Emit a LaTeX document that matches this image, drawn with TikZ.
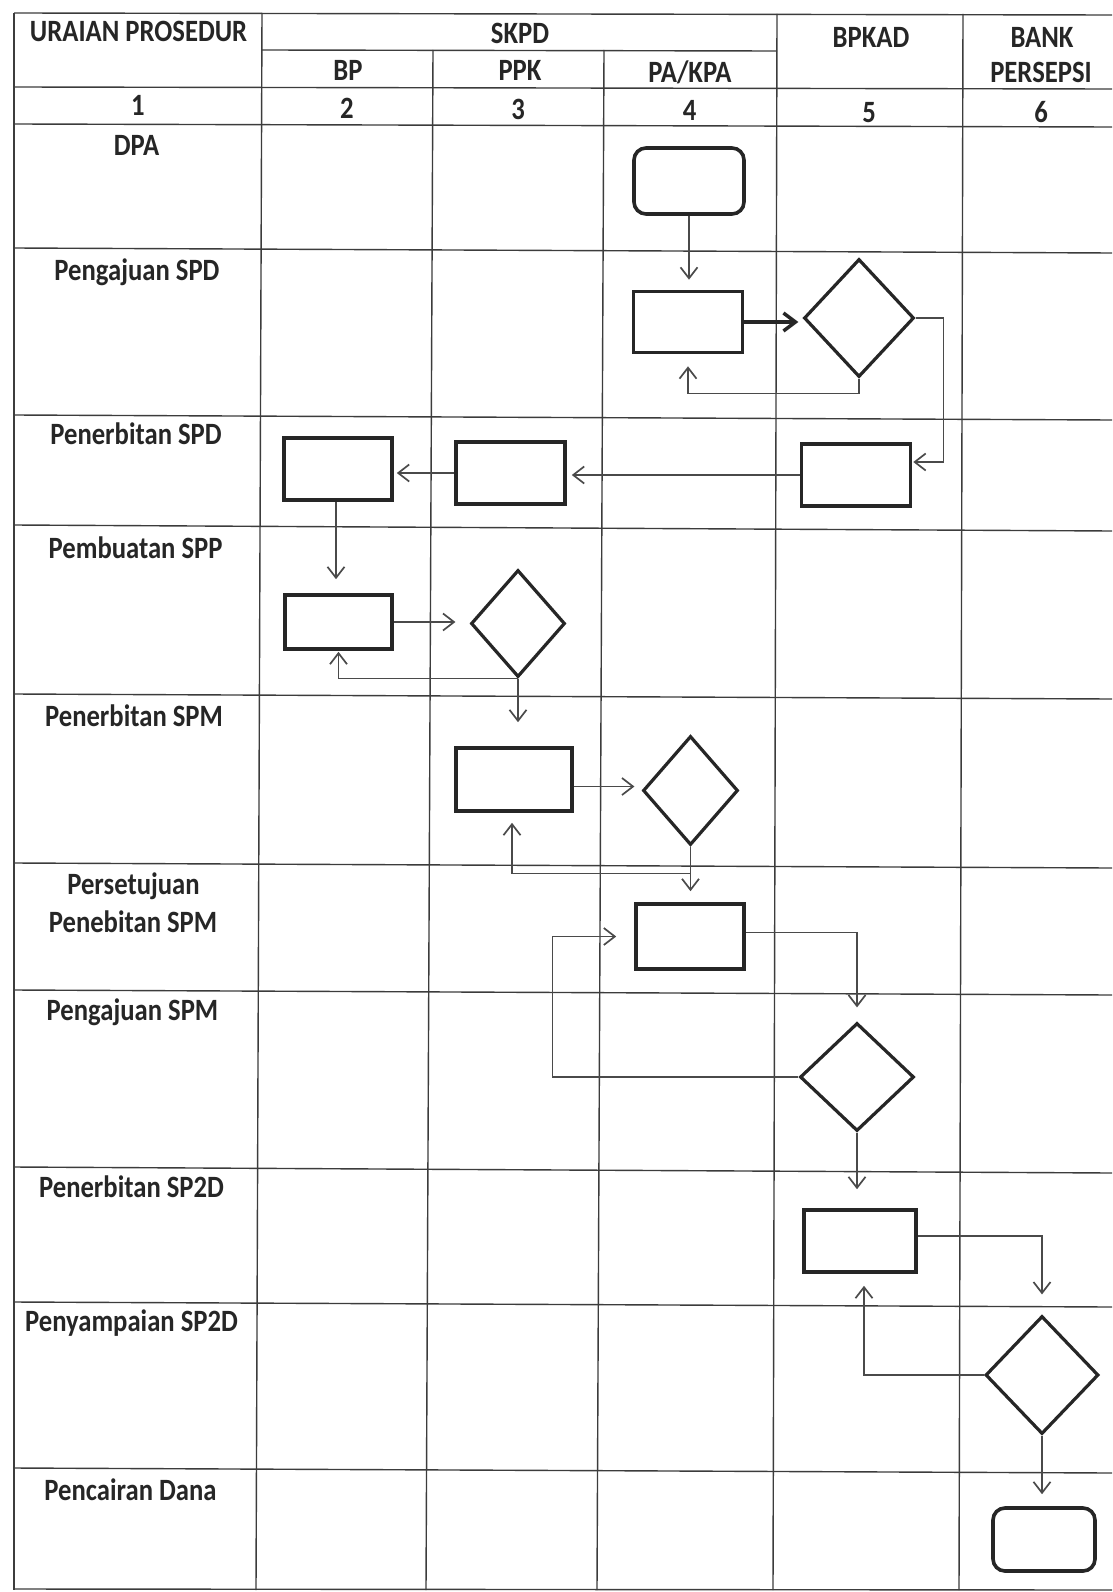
\documentclass[tikz,border=0pt]{standalone}
\usepackage{fontspec}
\setmainfont{Carlito}[FakeStretch=0.86]
\usetikzlibrary{arrows.meta,shapes.geometric}
\definecolor{ink}{HTML}{262626}
\definecolor{grid}{HTML}{3C3C3C}
\definecolor{conn}{HTML}{4A4A4A}
\begin{document}
\begin{tikzpicture}[x=1pt,y=-1pt,
  gridline/.style={draw=grid,line width=1.4pt},
  lbl/.style={anchor=base,inner sep=0pt,text=ink,font=\fontsize{31}{36}\selectfont\bfseries},
  boxshape/.style={draw=ink,line width=3.6pt,fill=white,inner sep=0pt},
  rbox/.style={boxshape,rectangle},
  tbox/.style={boxshape,rectangle,rounded corners=12pt},
  dbox/.style={boxshape,diamond,line width=3.2pt},
  arr/.style={draw=conn,line width=1.7pt,-{Straight Barb[length=11pt,width=17pt,line width=1.7pt]}},
  tarr/.style={draw=ink,line width=4pt,-{Straight Barb[length=12pt,width=18pt,line width=3.5pt]}}
]
\useasboundingbox (0,0) rectangle (1112,1592);
\fill[white] (0,0) rectangle (1112,1592);

% ---- grid: vertical lines (slightly slanted like the scan)
\coordinate (v1t) at (14,13);  \coordinate (v1b) at (14,1590);
\coordinate (v2t) at (262,13); \coordinate (v2b) at (256,1590);
\coordinate (v3t) at (433,50); \coordinate (v3b) at (426,1590);
\coordinate (v4t) at (604,50); \coordinate (v4b) at (597,1590);
\coordinate (v5t) at (777,14); \coordinate (v5b) at (773,1590);
\coordinate (v6t) at (963,14); \coordinate (v6b) at (959,1590);
\draw[gridline] (v1t) -- (v1b);
\draw[gridline] (v2t) -- (v2b);
\draw[gridline] (v3t) -- (v3b);
\draw[gridline] (v4t) -- (v4b);
\draw[gridline] (v5t) -- (v5b);
\draw[gridline] (v6t) -- (v6b);
% ---- horizontal lines
\coordinate (h0l) at (14,13);   \coordinate (h0r) at (1112,15);
\coordinate (hsl) at (262,50);  \coordinate (hsr) at (777,51);
\coordinate (h1l) at (14,87);   \coordinate (h1r) at (1112,89);
\coordinate (h2l) at (14,124);  \coordinate (h2r) at (1112,127);
\coordinate (h3l) at (14,248);  \coordinate (h3r) at (1112,253);
\coordinate (h4l) at (14,415);  \coordinate (h4r) at (1112,420);
\coordinate (h5l) at (14,525);  \coordinate (h5r) at (1112,531);
\coordinate (h6l) at (14,694);  \coordinate (h6r) at (1112,699);
\coordinate (h7l) at (14,863);  \coordinate (h7r) at (1112,868);
\coordinate (h8l) at (14,990);  \coordinate (h8r) at (1112,995);
\coordinate (h9l) at (14,1167); \coordinate (h9r) at (1112,1173);
\coordinate (hAl) at (14,1302); \coordinate (hAr) at (1112,1307);
\coordinate (hBl) at (14,1468); \coordinate (hBr) at (1112,1473);
\coordinate (hCl) at (14,1589); \coordinate (hCr) at (1112,1590);
\foreach \n in {h0,hs,h1,h2,h3,h4,h5,h6,h7,h8,h9,hA,hB,hC}
  \draw[gridline] (\n l) -- (\n r);

% ---- header texts
\node[lbl] (tUr) at (138.6,42) {URAIAN PROSEDUR};
\node[lbl] (tSk) at (520,44) {SKPD};
\node[lbl] (tBp) at (348,81) {BP};
\node[lbl] (tPp) at (520,81) {PPK};
\node[lbl] (tPa) at (690,83) {PA/KPA};
\node[lbl] (tBk) at (871,48) {BPKAD};
\node[lbl] (tBa) at (1042,48) {BANK};
\node[lbl] (tPe) at (1041,83) {PERSEPSI};
\node[lbl] (n1) at (138,116) {1};
\node[lbl] (n2) at (347,119) {2};
\node[lbl] (n3) at (518,120) {3};
\node[lbl] (n4) at (689.5,121) {4};
\node[lbl] (n5) at (869,123) {5};
\node[lbl] (n6) at (1041,123) {6};

% ---- row labels
\node[lbl] (l1) at (136.6,155) {DPA};
\node[lbl] (l2) at (137,280) {Pengajuan SPD};
\node[lbl] (l3) at (136,444) {Penerbitan SPD};
\node[lbl] (l4) at (135.6,558) {Pembuatan SPP};
\node[lbl] (l5) at (134,726) {Penerbitan SPM};
\node[lbl] (l6a) at (133.5,894) {Persetujuan};
\node[lbl] (l6b) at (133,932) {Penebitan SPM};
\node[lbl] (l7) at (132.5,1020) {Pengajuan SPM};
\node[lbl] (l8) at (131.5,1197) {Penerbitan SP2D};
\node[lbl] (l9) at (131.5,1331) {Penyampaian SP2D};
\node[lbl] (l10) at (130.5,1500) {Pencairan Dana};

% ---- shapes
\node[tbox,minimum width=110pt,minimum height=66pt] (s1) at (689,181) {};
\node[rbox,minimum width=109pt,minimum height=61pt] (r2) at (688,322) {};
\node[dbox,minimum width=110pt,minimum height=118pt] (d3) at (859,318) {};
\node[rbox,minimum width=109pt,minimum height=62pt] (r4) at (856,475) {};
\node[rbox,minimum width=109pt,minimum height=62pt] (r5) at (510.5,473) {};
\node[rbox,minimum width=108pt,minimum height=62pt] (r6) at (338,469) {};
\node[rbox,minimum width=107pt,minimum height=54pt] (r7) at (338.5,622) {};
\node[dbox,minimum width=94pt,minimum height=107pt] (d8) at (518,623.5) {};
\node[rbox,minimum width=116pt,minimum height=63pt] (r9) at (514,779.5) {};
\node[dbox,minimum width=95pt,minimum height=109pt] (d10) at (690.5,790.5) {};
\node[rbox,minimum width=108pt,minimum height=65pt] (r11) at (690,936.5) {};
\node[dbox,minimum width=114pt,minimum height=108pt] (d12) at (857,1077) {};
\node[rbox,minimum width=112pt,minimum height=62pt] (r13) at (860,1241) {};
\node[dbox,minimum width=113pt,minimum height=118pt] (d14) at (1042,1375) {};
\node[tbox,minimum width=102pt,minimum height=63pt] (s15) at (1044,1539.5) {};

% ---- connectors
\draw[arr,shorten >=10pt] (s1.south) -- (s1.south |- r2.north);
\draw[tarr,shorten >=4pt] (r2.east) -- (r2.east -| d3.west);
\draw[arr,shorten >=12pt] (d3.south) -- ++(0,15) -| (r2.south);
\draw[arr,shorten >=1pt] (d3.east) -- ++(28,0) |- ([yshift=13pt]r4.east);
\draw[arr,shorten >=5pt] (r4.west) -- (r4.west -| r5.east);
\draw[arr,shorten >=3pt] (r5.west) -- (r5.west -| r6.east);
\draw[arr,shorten >=14pt] ([xshift=-2pt]r6.south) -- ([xshift=-2pt]r6.south |- r7.north);
\draw[arr,shorten >=14pt] (r7.east) -- (r7.east -| d8.west);
\draw[arr,shorten >=1pt] (d8.south) -| (r7.south);
\draw[arr,shorten >=24pt] (d8.south) -- (d8.south |- r9.north);
\draw[arr,shorten >=7pt] ([yshift=-7pt]r9.east) -- ([yshift=-7pt]r9.east -| d10.west);
\draw[arr,shorten >=11pt] (d10.south) -- (d10.south |- r11.north);
\draw[arr,shorten >=10pt] (d10.south) -- ++(0,27) -| ([xshift=-2pt]r9.south);
\draw[arr,shorten >=18pt] (d12.west) -- ++(-246,0) |- (r11.west);
\draw[arr,shorten >=14pt] ([yshift=4pt]r11.east) -| (d12.north);
\draw[arr,shorten >=19pt] (d12.south) -- (d12.south |- r13.north);
\draw[arr,shorten >=20pt] ([yshift=5pt]r13.east) -| (d14.north);
\draw[arr,shorten >=12pt] (d14.west) -| ([xshift=4pt]r13.south);
\draw[arr,shorten >=12pt] (d14.south) -- (d14.south |- s15.north);
\end{tikzpicture}
\end{document}
